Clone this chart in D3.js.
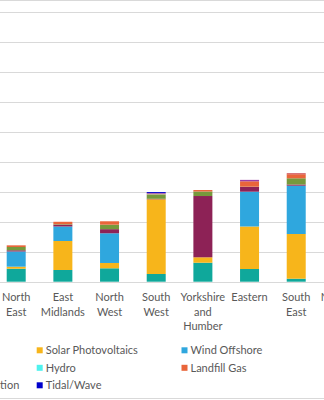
<!DOCTYPE html>
<html>
<head>
<meta charset="utf-8">
<script src="https://cdn.jsdelivr.net/npm/d3@7"></script>
<style>
  html, body { margin: 0; padding: 0; background: #fff; }
  svg { display: block; }
  text { font-family: Lato, "Open Sans", sans-serif; fill: #595959; }
</style>
</head>
<body>
<svg id="chart" width="324" height="400"></svg>
<script>
// Regions (x tick labels); the last one is only partly visible at the right edge
const categories = ["North East", "East Midlands", "North West", "South West",
  "Yorkshire and Humber", "Eastern", "South East", "Northern Ireland"];
const regions = ["North East", "East Midlands", "North West", "South West",
  "Yorkshire and Humber", "Eastern", "South East"];

// Series, in stacking order (bottom to top)
const seriesNames = ["Wind Onshore", "Solar Photovoltaics", "Wind Offshore", "Plant Biomass",
  "Sewage Gas", "Hydro", "Landfill Gas", "Energy from Waste", "Anaerobic Digestion", "Tidal/Wave"];
const seriesColors = ["#0fa89b", "#f7b51b", "#2fa7de", "#8d2256",
  "#76993c", "#4ff2ee", "#e9653a", "#c8383d", "#9c3fa6", "#0000cc"];

// Values per series, one per region
const windOnshore   = [433, 390, 447, 257, 633, 423, 100];
const solarPV       = [67, 967, 177, 2490, 180, 1417, 1490];
const windOffshore  = [507, 483, 990, 0, 0, 1160, 1610];
const plantBiomass  = [40, 60, 137, 17, 2043, 157, 40];
const sewageGas     = [110, 17, 150, 143, 150, 10, 207];
const hydro         = [0, 0, 0, 7, 0, 0, 0];
const landfillGas   = [55, 80, 113, 20, 50, 180, 133];
const energyWaste   = [0, 0, 0, 0, 0, 0, 33];
const anaerobicDig  = [0, 0, 0, 20, 0, 47, 0];
const tidalWave     = [0, 0, 0, 33, 0, 0, 0];

// Y-axis gridline values
const yTicks = [0, 1000, 2000, 3000, 4000, 5000, 6000, 7000, 8000, 9000];

const seriesValues = [windOnshore, solarPV, windOffshore, plantBiomass, sewageGas,
  hydro, landfillGas, energyWaste, anaerobicDig, tidalWave];

const rows = regions.map((r, i) => {
  const o = { region: r };
  seriesNames.forEach((s, j) => { o[s] = seriesValues[j][i]; });
  return o;
});

const svg = d3.select("#chart");

const step = 46.67;
const x0 = 16.2 - step / 2;
const x = d3.scaleBand()
  .domain(categories)
  .range([x0, x0 + step * categories.length])
  .paddingInner(0.593)
  .paddingOuter(0.2965);

const y = d3.scaleLinear().domain([0, 9000]).range([281.7, 11.7]);

// chart border (top / bottom visible)
svg.append("line").attr("x1", 0).attr("x2", 324).attr("y1", 0.5).attr("y2", 0.5)
  .attr("stroke", "#d9d9d9");
svg.append("line").attr("x1", 0).attr("x2", 324).attr("y1", 398.5).attr("y2", 398.5)
  .attr("stroke", "#d9d9d9");

// gridlines
svg.append("g").selectAll("line").data(yTicks).join("line")
  .attr("x1", 0).attr("x2", 324)
  .attr("y1", d => Math.round(y(d)) + 0.5).attr("y2", d => Math.round(y(d)) + 0.5)
  .attr("stroke", "#d9d9d9").attr("stroke-width", 1);

// stacked bars
const stack = d3.stack().keys(seriesNames);
const stacked = stack(rows);
svg.append("g").selectAll("g").data(stacked).join("g")
  .attr("fill", (d, i) => seriesColors[i])
  .selectAll("rect").data(d => d).join("rect")
  .attr("x", d => x(d.data.region))
  .attr("width", x.bandwidth())
  .attr("y", d => y(d[1]))
  .attr("height", d => Math.max(0, y(d[0]) - y(d[1])));

// x axis line
svg.append("line").attr("x1", 0).attr("x2", 324)
  .attr("y1", Math.round(y(0)) + 0.5).attr("y2", Math.round(y(0)) + 0.5)
  .attr("stroke", "#d9d9d9");

// x labels
const lab = svg.append("g").selectAll("text").data(categories).join("text")
  .attr("text-anchor", "middle")
  .attr("font-size", 11)
  .attr("x", d => x(d) + x.bandwidth() / 2)
  .attr("y", 301.3);
lab.each(function(d) {
  const words = d.split(" ");
  const t = d3.select(this);
  const cx = x(d) + x.bandwidth() / 2;
  words.forEach((w, i) => {
    t.append("tspan").attr("x", cx).attr("dy", i === 0 ? 0 : 14.4).text(w);
  });
});

// legend: 4 columns, row-major
const legCols = 4;
const colX = [-87.7, 36.7, 181.5, 326.5];
const rowY = [350.3, 367.8, 385.3];
const leg = svg.append("g").selectAll("g").data(seriesNames).join("g")
  .attr("transform", (d, i) => `translate(${colX[i % legCols]},${rowY[Math.floor(i / legCols)]})`);
leg.append("rect").attr("x", 0).attr("y", -3).attr("width", 6).attr("height", 6)
  .attr("fill", (d, i) => seriesColors[i]);
leg.append("text").attr("x", 9).attr("y", 4).attr("font-size", 11).text(d => d);
</script>
</body>
</html>
